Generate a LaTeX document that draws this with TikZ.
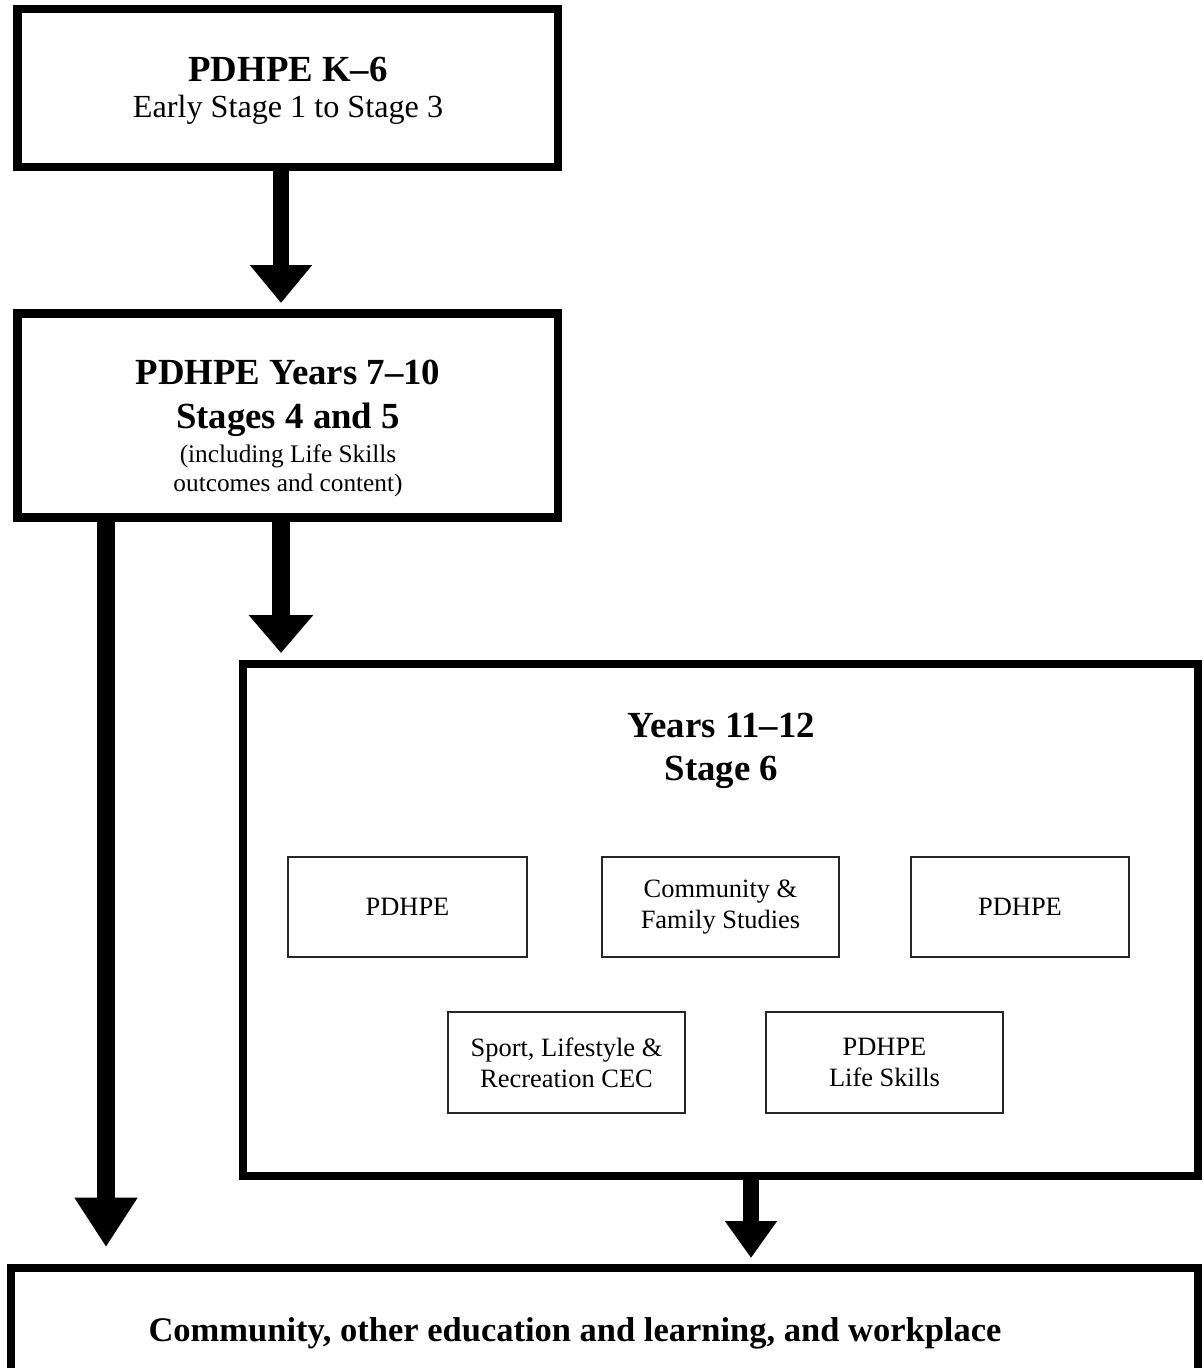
\documentclass[tikz,border=0pt]{standalone}
\usepackage{fontspec}
\setmainfont{Liberation Serif}
\usetikzlibrary{arrows.meta}
\begin{document}
\begin{tikzpicture}[x=0.4348pt,y=-0.4348pt,
  bigbox/.style={draw=black,line width=3.5pt,rectangle,outer sep=0pt,inner sep=0pt},
  smallbox/.style={draw=black!85,line width=0.55pt,rectangle,align=center,
     outer sep=0pt,inner sep=0pt,minimum height=43.5pt,
     font=\fontsize{11.5}{13.5}\selectfont},
  ttl/.style={anchor=base,font=\fontsize{16}{18.6}\selectfont\bfseries},
  sub/.style={anchor=base,font=\fontsize{14}{16}\selectfont},
  par/.style={anchor=base,font=\fontsize{11}{12.6}\selectfont},
  fatarrow/.style={line width=7pt,-{Triangle[width=26pt,length=16.5pt]}}]
\useasboundingbox (0,0) rectangle (1202,1368);
% big boxes
\node[bigbox,minimum width=235pt,minimum height=69.1pt] (b1) at (287.75,88) {};
\node[bigbox,minimum width=235pt,minimum height=88.7pt] (b2) at (287.75,415.5) {};
\node[bigbox,minimum width=415.4pt,minimum height=222.8pt] (b3) at (720.75,919.75) {};
\node[bigbox,minimum width=515.9pt,minimum height=57.4pt] (b4) at (604.25,1334) {};
% texts
\node[ttl] (t1) at (288,82) {PDHPE K–6};
\node[sub] (t1b) at (288,118) {Early Stage 1 to Stage 3};
\node[ttl] (t2) at (288,385) {PDHPE Years 7–10};
\node[ttl] (t2b) at (288,428) {Stages 4 and 5};
\node[par] (t2c) at (288,462) {(including Life Skills};
\node[par] (t2d) at (288,491) {outcomes and content)};
\node[ttl] (t3) at (721.5,737) {Years 11–12};
\node[ttl] (t3b) at (721.5,780) {Stage 6};
\node[ttl,font=\fontsize{15}{17}\selectfont\bfseries] (t4) at (575,1341)
  {Community, other education and learning, and workplace};
% inner boxes
\node[smallbox,minimum width=103.9pt] (p1) at (407.5,907) {PDHPE};
\node[smallbox,minimum width=103pt] (cfs) at (720.5,907) {Community \&\\Family Studies};
\node[smallbox,minimum width=94.8pt] (p2) at (1020,907) {PDHPE};
\node[smallbox,minimum width=103pt,minimum height=43.9pt] (slr) at (566.5,1062.5) {Sport, Lifestyle \&\\Recreation CEC};
\node[smallbox,minimum width=103pt,minimum height=43.9pt] (pls) at (884.5,1062.5) {PDHPE\\Life Skills};
% arrows
\coordinate (e1) at (281,303);
\coordinate (e2) at (281,653);
\coordinate (e3) at (106,1247);
\coordinate (e4) at (751,1258);
\draw[fatarrow,line width=6.6pt] (b1.south -| e1) -- (e1);
\draw[fatarrow,line width=7.8pt,-{Triangle[width=27pt,length=16.5pt]}] (b2.south -| e2) -- (e2);
\draw[fatarrow,line width=7.8pt,-{Triangle[width=26pt,length=21.5pt]}] (b2.south -| e3) -- (e3);
\draw[fatarrow,-{Triangle[width=21.5pt,length=16pt]}] (b3.south -| e4) -- (e4);
\end{tikzpicture}
\end{document}
